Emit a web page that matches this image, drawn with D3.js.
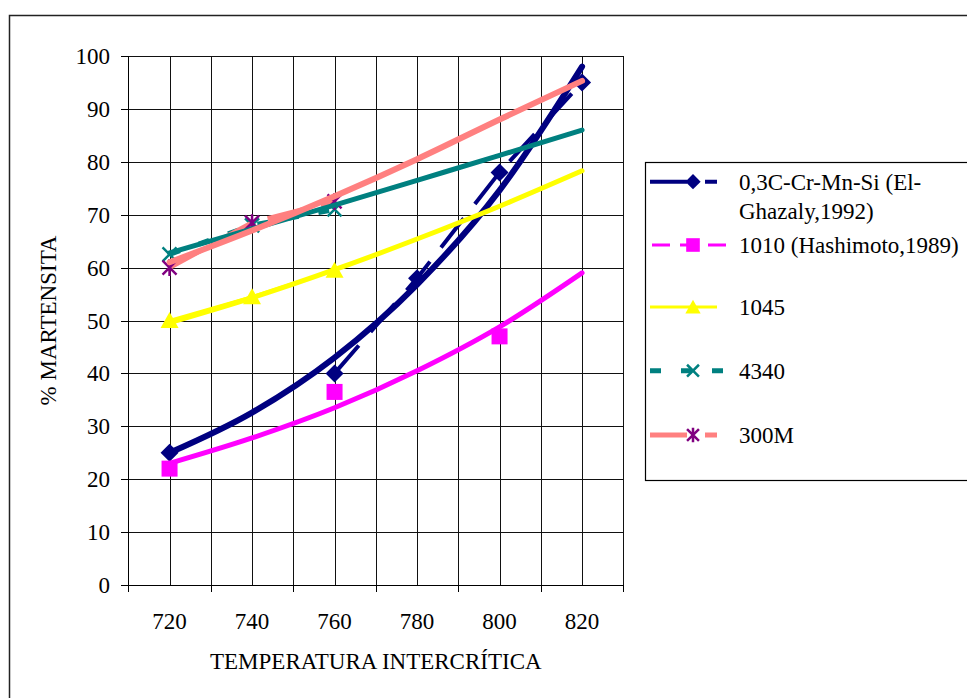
<!DOCTYPE html>
<html>
<head>
<meta charset="utf-8">
<script src="https://cdn.jsdelivr.net/npm/d3@7"></script>
<style>
  html, body { margin: 0; padding: 0; background: #fff; }
  svg { display: block; }
</style>
</head>
<body>
<svg id="chart" width="967" height="698"></svg>
<script>
// Intercritical temperature categories (°C)
const categories = ["720", "740", "760", "780", "800", "820"];
const yTicks = [0, 10, 20, 30, 40, 50, 60, 70, 80, 90, 100];

// Measured % martensite per steel (null = not measured)
const seriesCrMnSi = [25, null, 40, 58, 78, 95];
const series1010   = [22, null, 36.5, null, 47, null];
const series1045   = [50, 54.5, 59.5, null, null, null];
const series4340   = [62.5, 68, 71, null, null, null];
const series300M   = [60, 68.5, 72.5, null, null, null];

// Trend curves, read at each category
const trendCrMnSi = [25, 32.6, 43, 56.8, 74.6, 98];
const trend1010   = [23, 27.8, 33.5, 40.5, 48.8, 59];
const trend1045   = [49.6, 54.3, 59.6, 65.4, 71.6, 78.3];
const trend4340   = [62.8, 67.3, 71.8, 76.5, 81.2, 86];
const trend300M   = [61, 67, 73.5, 80.5, 88, 95.3];

const FONT = "Liberation Serif, Times New Roman, serif";

const series = [
  { values: seriesCrMnSi, trend: trendCrMnSi, color: "#000080",
    lineW: 4, dash: "37,18", trendW: 6, marker: "diamond", markerColor: "#000080",
    legendLabel: ["0,3C-Cr-Mn-Si (El-", "Ghazaly,1992)"] },
  { values: series1010, trend: trend1010, color: "#FF00FF",
    lineW: 3, dash: "18,10", trendW: 5, marker: "square", markerColor: "#FF00FF",
    legendLabel: ["1010 (Hashimoto,1989)"] },
  { values: series1045, trend: trend1045, color: "#FFFF00",
    lineW: 3, dash: null, trendW: 5, marker: "triangle", markerColor: "#FFFF00",
    legendLabel: ["1045"] },
  { values: series4340, trend: trend4340, color: "#008080",
    lineW: 5, dash: "11,20", trendW: 5, marker: "x", markerColor: "#008080",
    legendLabel: ["4340"] },
  { values: series300M, trend: trend300M, color: "#FF8080",
    lineW: 5, dash: "37,18", trendW: 6, marker: "asterisk", markerColor: "#800080",
    legendLabel: ["300M"] }
];

const svg = d3.select("#chart");
const plot = { left: 128.3, right: 623.3, top: 56, bottom: 585 };

const x = d3.scaleBand().domain(categories).range([plot.left, plot.right]);
const y = d3.scaleLinear().domain([0, 100]).range([plot.bottom, plot.top]);
const cx = c => x(c) + x.bandwidth() / 2;

// Outer chart frame
svg.append("rect")
  .attr("x", 9.5).attr("y", 15.5).attr("width", 1000).attr("height", 800)
  .attr("fill", "none").attr("stroke", "#222").attr("stroke-width", 1.5);

// Gridlines
const grid = svg.append("g").attr("shape-rendering", "crispEdges");
grid.selectAll("line.h").data(yTicks).join("line")
  .attr("x1", plot.left).attr("x2", plot.right)
  .attr("y1", d => Math.round(y(d)) + 0.5).attr("y2", d => Math.round(y(d)) + 0.5)
  .attr("stroke", "#111").attr("stroke-width", 1);
const edges = categories.map(c => x(c)).concat([plot.right]);
const centers = categories.map(cx);
grid.selectAll("line.v").data(edges.concat(centers)).join("line")
  .attr("x1", d => Math.round(d) + 0.5).attr("x2", d => Math.round(d) + 0.5)
  .attr("y1", plot.top).attr("y2", plot.bottom)
  .attr("stroke", "#111").attr("stroke-width", 1);

// Y axis
const yAxis = svg.append("g").attr("shape-rendering", "crispEdges");
yAxis.append("line")
  .attr("x1", Math.round(plot.left) + 0.5).attr("x2", Math.round(plot.left) + 0.5)
  .attr("y1", plot.top).attr("y2", plot.bottom).attr("stroke", "#000");
yAxis.selectAll("line.t").data(yTicks).join("line")
  .attr("x1", plot.left - 7).attr("x2", plot.left)
  .attr("y1", d => Math.round(y(d)) + 0.5).attr("y2", d => Math.round(y(d)) + 0.5)
  .attr("stroke", "#000");
svg.append("g").selectAll("text").data(yTicks).join("text")
  .attr("x", 110).attr("y", d => y(d)).attr("dy", "0.35em")
  .attr("text-anchor", "end").attr("font-family", FONT).attr("font-size", 23).attr("fill", "#000")
  .text(d => d);

// X axis
const xAxis = svg.append("g").attr("shape-rendering", "crispEdges");
xAxis.append("line")
  .attr("x1", plot.left).attr("x2", plot.right)
  .attr("y1", Math.round(plot.bottom) + 0.5).attr("y2", Math.round(plot.bottom) + 0.5)
  .attr("stroke", "#000");
xAxis.selectAll("line.t").data(edges).join("line")
  .attr("x1", d => Math.round(d) + 0.5).attr("x2", d => Math.round(d) + 0.5)
  .attr("y1", plot.bottom).attr("y2", plot.bottom + 7)
  .attr("stroke", "#000");
svg.append("g").selectAll("text").data(categories).join("text")
  .attr("x", d => cx(d)).attr("y", 629)
  .attr("text-anchor", "middle").attr("font-family", FONT).attr("font-size", 23).attr("fill", "#000")
  .text(d => d);

// Axis titles
svg.append("text")
  .attr("x", (plot.left + plot.right) / 2).attr("y", 669)
  .attr("text-anchor", "middle").attr("font-family", FONT).attr("font-size", 23).attr("fill", "#000")
  .text("TEMPERATURA INTERCRÍTICA");
svg.append("text")
  .attr("transform", `translate(56, ${(plot.top + plot.bottom) / 2}) rotate(-90)`)
  .attr("text-anchor", "middle").attr("font-family", FONT).attr("font-size", 23).attr("fill", "#000")
  .text("% MARTENSITA");

// Marker drawing
function drawMarker(g, type, px, py, color, scale) {
  const k = scale || 1;
  const s = 9 * k;
  if (type === "diamond") {
    g.append("path").attr("d", `M${px},${py - s}L${px + s},${py}L${px},${py + s}L${px - s},${py}Z`).attr("fill", color);
  } else if (type === "square") {
    const h = 8 * k;
    g.append("rect").attr("x", px - h).attr("y", py - h).attr("width", 2 * h).attr("height", 2 * h).attr("fill", color);
  } else if (type === "triangle") {
    g.append("path").attr("d", `M${px},${py - 8.5 * k}L${px + 9 * k},${py + 7.5 * k}L${px - 9 * k},${py + 7.5 * k}Z`).attr("fill", color);
  } else if (type === "x") {
    const a = 7 * k;
    g.append("path").attr("d", `M${px - a},${py - a}L${px + a},${py + a}M${px + a},${py - a}L${px - a},${py + a}`)
      .attr("stroke", color).attr("stroke-width", 2.5).attr("fill", "none");
  } else if (type === "asterisk") {
    const a = 7 * k;
    g.append("path").attr("d", `M${px - a},${py - a}L${px + a},${py + a}M${px + a},${py - a}L${px - a},${py + a}M${px},${py - 8.5 * k}L${px},${py + 8.5 * k}`)
      .attr("stroke", color).attr("stroke-width", 2.5).attr("fill", "none");
  }
}

// Series lines and markers
const seriesLine = d3.line()
  .defined(d => d.v !== null)
  .x(d => cx(d.c)).y(d => y(d.v));
const marks = svg.append("g");
series.forEach(s => {
  const pts = categories.map((c, i) => ({ c, v: s.values[i] }));
  marks.append("path").datum(pts)
    .attr("d", seriesLine).attr("fill", "none")
    .attr("stroke", s.color).attr("stroke-width", s.lineW)
    .attr("stroke-dasharray", s.dash);
  pts.filter(p => p.v !== null).forEach(p => drawMarker(marks, s.marker, cx(p.c), y(p.v), s.markerColor));
});

// Trend curves
const trendLine = d3.line().x(d => cx(d.c)).y(d => y(d.v)).curve(d3.curveMonotoneX);
const trends = svg.append("g");
series.forEach(s => {
  const pts = categories.map((c, i) => ({ c, v: s.trend[i] }));
  trends.append("path").datum(pts)
    .attr("d", trendLine).attr("fill", "none")
    .attr("stroke", s.color).attr("stroke-width", s.trendW)
    .attr("stroke-linecap", "round");
});

// Legend
const legend = svg.append("g");
legend.append("rect")
  .attr("x", 645.5).attr("y", 162.5).attr("width", 400).attr("height", 318)
  .attr("fill", "#fff").attr("stroke", "#000").attr("stroke-width", 1.2);
const rowY = [181.7, 245, 307, 370.7, 435];
series.forEach((s, i) => {
  const ry = rowY[i];
  const x0 = i === 1 ? 652 : 650;
  const x1 = i === 1 ? 726 : (i === 3 ? 723 : 717);
  legend.append("line")
    .attr("x1", x0).attr("x2", x1).attr("y1", ry).attr("y2", ry)
    .attr("stroke", s.color).attr("stroke-width", s.lineW)
    .attr("stroke-dasharray", s.dash);
  drawMarker(legend, s.marker, 693, ry, s.markerColor, 0.85);
  s.legendLabel.forEach((t, j) => {
    legend.append("text")
      .attr("x", 739).attr("y", ry + j * 29).attr("dy", "0.35em")
      .attr("font-family", FONT).attr("font-size", 23).attr("fill", "#000").text(t);
  });
});
</script>
</body>
</html>
